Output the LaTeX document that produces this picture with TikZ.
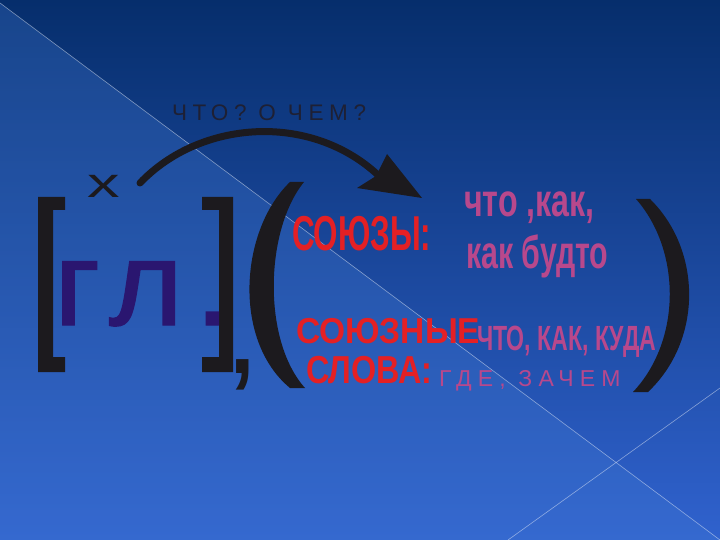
\documentclass[tikz,border=0pt]{standalone}
\usepackage{fontspec}
\setmainfont{Liberation Sans}
\newfontfamily\spacedA[LetterSpace=25]{Liberation Sans}
\newfontfamily\spacedB[LetterSpace=27]{Liberation Sans}
\newfontfamily\spacedG[LetterSpace=9,FakeBold=1.2]{Liberation Sans}
\definecolor{bgtop}{RGB}{6,46,108}
\definecolor{bgmid}{RGB}{12,60,152}
\definecolor{bgbot}{RGB}{48,98,206}
\definecolor{tri}{RGB}{66,122,212}
\definecolor{ink}{RGB}{28,26,30}
\definecolor{qcol}{RGB}{30,32,52}
\definecolor{glcol}{RGB}{42,22,112}
\definecolor{redc}{RGB}{228,32,36}
\definecolor{pinkc}{RGB}{184,72,140}
\begin{document}
\begin{tikzpicture}[x=1pt,y=-1pt,
  txt/.style={inner sep=0pt,outer sep=0pt,anchor=base west},
  shapefill/.style={fill=ink,draw=none},
  diag/.style={draw=white,draw opacity=0.45,line width=0.6pt}]
\useasboundingbox (0,0) rectangle (720,540);
% background
\shade[top color=bgtop,middle color=bgmid,bottom color=bgbot] (0,0) rectangle (720,540);
\coordinate (d1) at (0,3);
\coordinate (d2) at (720,540);
\coordinate (d3) at (720,388);
\coordinate (d4) at (508,540);
\fill[tri,opacity=0.3] (d1) -- (d2) -- (0,540) -- cycle;
\draw[diag] (d1) -- (d2);
\draw[diag] (d3) -- (d4);
% brackets
\fill[shapefill] (38,197) -- (65,197) -- (65,210) -- (53,210) -- (53,357) -- (65,357) -- (65,372) -- (38,372) -- cycle;
\fill[shapefill] (202,197) -- (233,197) -- (233,372) -- (202,372) -- (202,357) -- (219,357) -- (219,210) -- (202,210) -- cycle;
% parens
\fill[shapefill] (290,182) .. controls (240,230) and (232,340) .. (290,388) -- (305,388) .. controls (262,340) and (265,230) .. (304,182) -- cycle;
\fill[shapefill] (650,199) .. controls (702,250) and (703,340) .. (648,392) -- (633,392) .. controls (682,340) and (681,250) .. (636,199) -- cycle;
% texts
\node[txt,text=qcol] (q) at (172,121) {\fontsize{22.5}{26}\spacedA ЧТО? О ЧЕМ?};
\node[txt,text=ink] (x) at (87,197) {\fontsize{42}{48}\selectfont\scalebox{1.55}[1]{х}};
\node[txt,text=glcol] (gl) at (54,325) {\fontsize{120}{130}\spacedG\scalebox{1.06}[1]{гл.}};
\node[txt,text=ink] (comma) at (224,373.5) {\fontsize{130}{140}\selectfont\raisebox{0pt}[0.11em][0.15em]{,}};
\node[txt,text=redc] (s1) at (292,250) {\fontsize{49}{55}\selectfont\bfseries\scalebox{0.64}[1]{СОЮЗЫ:}};
\node[txt,text=pinkc] (p1) at (464,217) {\fontsize{46}{52}\selectfont\bfseries\scalebox{0.7}[1]{что ,как,}};
\node[txt,text=pinkc] (p2) at (466,268) {\fontsize{46}{52}\selectfont\bfseries\scalebox{0.66}[1]{как будто}};
\node[txt,text=redc] (s2) at (296,343) {\fontsize{36}{40}\selectfont\bfseries\scalebox{0.93}[1]{СОЮЗНЫЕ}};
\node[txt,text=pinkc] (p3) at (477,350) {\fontsize{35}{40}\selectfont\bfseries\scalebox{0.66}[1]{ЧТО, КАК, КУДА}};
\node[txt,text=redc] (s3) at (306,383) {\fontsize{39}{44}\selectfont\bfseries\scalebox{0.83}[1]{СЛОВА:}};
\node[txt,text=pinkc] (p4) at (439,386) {\fontsize{23}{27}\spacedB ГДЕ, ЗАЧЕМ};
% arrow
\coordinate (arrS) at (140,183);
\coordinate (arrE) at (378,175);
\coordinate (tip) at (422,198);
\draw[ink,line width=7pt,line cap=round] (arrS) .. controls (200,120) and (310,112) .. (arrE);
\fill[shapefill] (tip) -- (387,154) -- (376,176) -- (357,188) -- cycle;
\end{tikzpicture}
\end{document}
